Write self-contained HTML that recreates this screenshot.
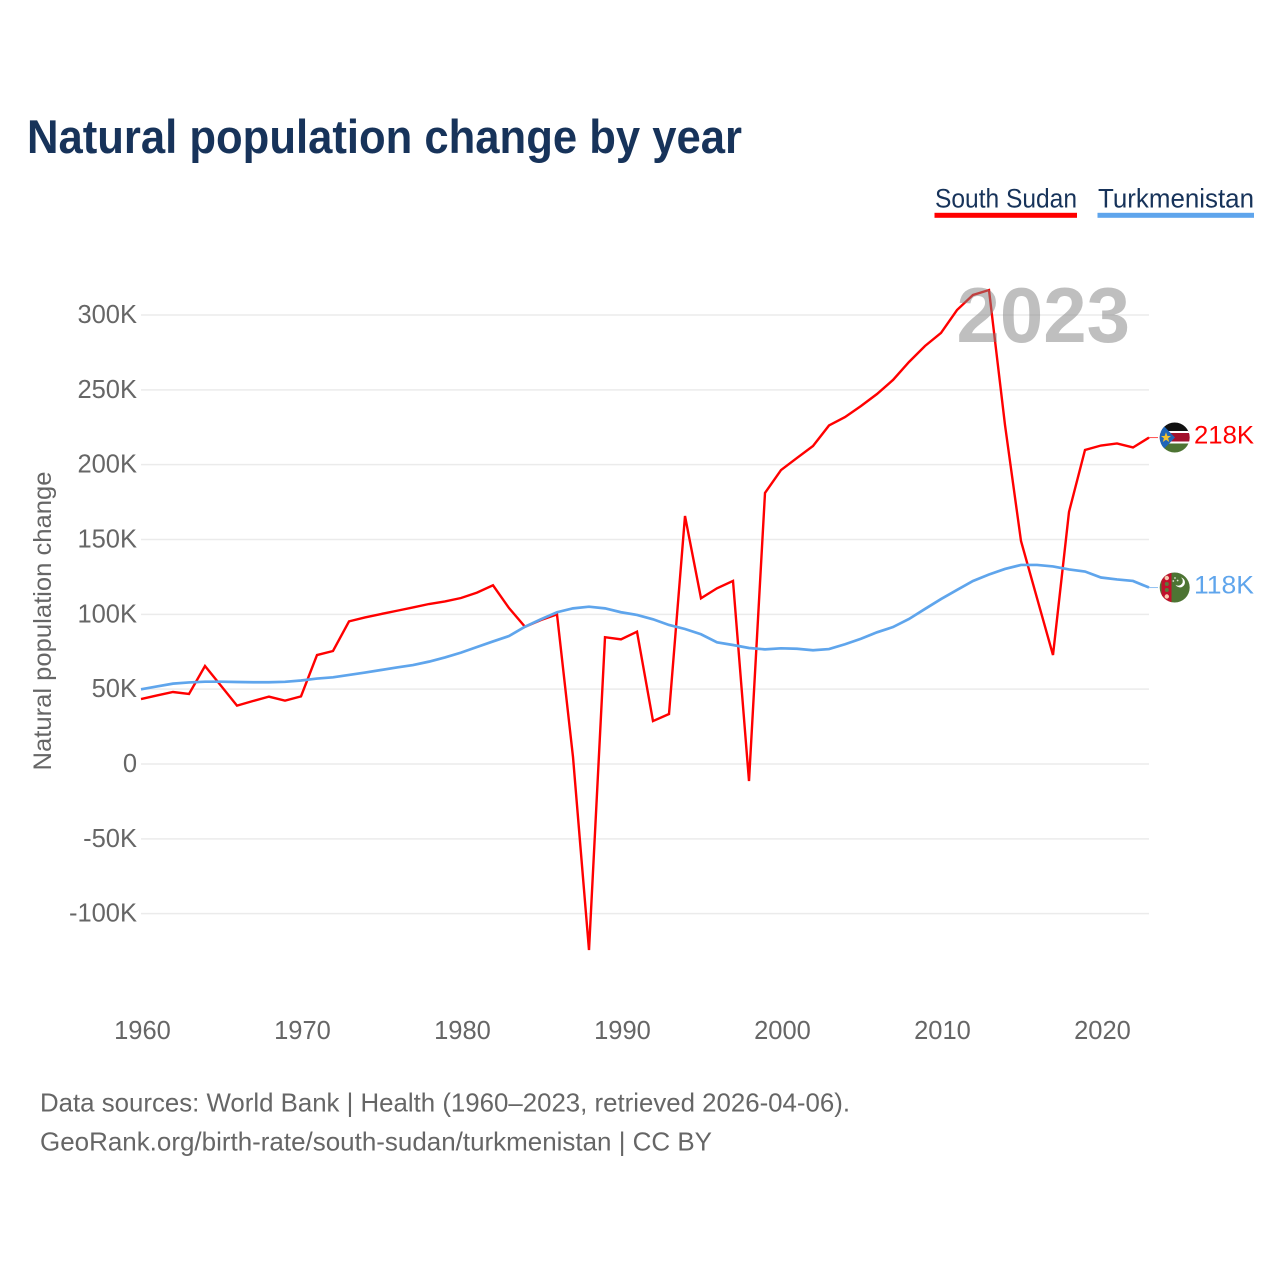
<!DOCTYPE html>
<html lang="en">
<head>
<meta charset="utf-8">
<title>Natural population change by year</title>
<style>
html,body{margin:0;padding:0;background:#fff;width:1280px;height:1280px;overflow:hidden}
svg{display:block}
text{font-family:"Liberation Sans",sans-serif}
</style>
</head>
<body>
<svg id="chart" xmlns="http://www.w3.org/2000/svg" width="1280" height="1280" viewBox="0 0 1280 1280">
  <defs>
    <clipPath id="flag-clip-ss"><circle cx="1174.7" cy="437.5" r="15"/></clipPath>
    <clipPath id="flag-clip-tm"><circle cx="1174.7" cy="587.5" r="15"/></clipPath>
  </defs>
  <rect width="1280" height="1280" fill="#fff"/>
  <text x="27" y="153" font-size="47" font-weight="700" fill="#17335a" textLength="715" lengthAdjust="spacingAndGlyphs">Natural population change by year</text>

  <g>
    <g>
      <text x="935" y="207.5" font-size="27" fill="#17335a" textLength="142" lengthAdjust="spacingAndGlyphs">South Sudan</text>
      <rect x="934.5" y="212.8" width="142.5" height="5" fill="#ff0000"/>
    </g>
    <g>
      <text x="1098" y="207.5" font-size="27" fill="#17335a" textLength="156" lengthAdjust="spacingAndGlyphs">Turkmenistan</text>
      <rect x="1097.5" y="212.8" width="156.5" height="5" fill="#5fa5ec"/>
    </g>
  </g>

  <g id="grid"></g>
  <g id="y-ticks"></g>
  <g id="x-ticks"></g>
  <text transform="translate(51 621) rotate(-90)" text-anchor="middle" font-size="25" fill="#666" textLength="299" lengthAdjust="spacingAndGlyphs">Natural population change</text>

  <g id="series"></g>

  <text x="956.5" y="342" font-size="78" font-weight="700" fill="#808080" fill-opacity="0.5">2023</text>

  <g>
    <g clip-path="url(#flag-clip-ss)">
      <rect x="1159" y="422" width="32" height="10" fill="#111"/>
      <rect x="1159" y="431" width="32" height="2" fill="#fff"/>
      <rect x="1159" y="433" width="32" height="8.5" fill="#a3112d"/>
      <rect x="1159" y="441.5" width="32" height="2" fill="#fff"/>
      <rect x="1159" y="443.5" width="32" height="10" fill="#4d7433"/>
      <polygon points="1159,421 1175,437.5 1159,454" fill="#1f65b8"/>
      <polygon points="1166,432.3 1167.4,436 1171,436 1168.1,438.3 1169.2,442 1166,439.8 1162.8,442 1163.9,438.3 1161,436 1164.6,436" fill="#f2c12e"/>
    </g>
    <text x="1194" y="443.5" font-size="25" fill="#ff0000" textLength="60" lengthAdjust="spacingAndGlyphs">218K</text>
  </g>
  <g>
    <g clip-path="url(#flag-clip-tm)">
      <rect x="1159" y="572" width="32" height="31" fill="#4d7433"/>
      <rect x="1161.5" y="572" width="10" height="31" fill="#c0102c"/>
      <circle cx="1166.8" cy="578" r="2.2" fill="#f7c9b0"/>
      <circle cx="1166.8" cy="584" r="2" fill="#5a7a3a"/>
      <circle cx="1166.8" cy="590" r="2" fill="#5a7a3a"/>
      <circle cx="1166.8" cy="596.5" r="2.2" fill="#f7c9b0"/>
      <path d="M1181 577.5 a5 5 0 1 1 -5.5 7.2 a4.4 4.4 0 0 0 5.5 -7.2z" fill="#fff"/>
      <circle cx="1175" cy="578" r="0.9" fill="#dfe6d5"/>
      <circle cx="1173.3" cy="581" r="0.9" fill="#dfe6d5"/>
      <circle cx="1177.6" cy="580.5" r="0.9" fill="#dfe6d5"/>
    </g>
    <text x="1194" y="593.5" font-size="25" fill="#5fa5ec" textLength="60" lengthAdjust="spacingAndGlyphs">118K</text>
  </g>

  <text x="40" y="1111.5" font-size="26" fill="#666" textLength="810" lengthAdjust="spacingAndGlyphs">Data sources: World Bank | Health (1960–2023, retrieved 2026-04-06).</text>
  <text x="40" y="1150.5" font-size="26" fill="#666" textLength="672" lengthAdjust="spacingAndGlyphs">GeoRank.org/birth-rate/south-sudan/turkmenistan | CC BY</text>
</svg>
<script>
const years = [1960,1961,1962,1963,1964,1965,1966,1967,1968,1969,1970,1971,1972,1973,1974,1975,1976,1977,1978,1979,1980,1981,1982,1983,1984,1985,1986,1987,1988,1989,1990,1991,1992,1993,1994,1995,1996,1997,1998,1999,2000,2001,2002,2003,2004,2005,2006,2007,2008,2009,2010,2011,2012,2013,2014,2015,2016,2017,2018,2019,2020,2021,2022,2023];
const southSudan = [43.4,45.8,48.1,46.8,65.5,52.3,39.0,42.1,45.0,42.3,45.2,72.8,75.5,95.3,97.9,100.2,102.4,104.6,106.9,108.6,110.9,114.5,119.4,104.2,91.7,96.2,100.0,4.7,-124.3,84.7,83.3,88.4,28.7,33.4,165.7,110.7,117.4,122.3,-11.4,181.1,196.4,204.5,212.5,226.2,231.8,239.2,247.2,256.6,268.6,279.3,288.0,303.3,313.4,316.7,226.5,149.0,110.9,72.8,168.4,209.8,212.8,214.2,211.5,218.1];
const turkmenistan = [49.9,51.8,53.7,54.5,55.0,55.0,54.8,54.6,54.6,54.9,55.8,57.1,57.9,59.5,61.1,62.8,64.5,66.1,68.4,71.2,74.4,78.2,81.9,85.5,91.7,96.7,101.4,104.0,105.1,104.0,101.4,99.6,96.7,92.9,90.2,86.7,81.3,79.5,77.5,76.6,77.3,77.0,76.0,76.8,80.0,83.7,88.0,91.5,96.9,103.6,110.2,116.3,122.3,126.6,130.3,133.0,133.0,132.0,130.0,128.6,124.6,123.3,122.3,117.9];
const yTicks = [300,250,200,150,100,50,0,-50,-100];
const yTickLabels = ["300K","250K","200K","150K","100K","50K","0","-50K","-100K"];
const xTicks = [1960,1970,1980,1990,2000,2010,2020];

const SVG_NS = "http://www.w3.org/2000/svg";
const xScale = function (year) { return 141 + (year - 1960) * 16; };
const yScale = function (value) { return 764 - value * (449 / 300); };

const gridGroup = document.getElementById("grid");
const yTickGroup = document.getElementById("y-ticks");
const xTickGroup = document.getElementById("x-ticks");
const seriesGroup = document.getElementById("series");

yTicks.forEach(function (tick, i) {
  const line = document.createElementNS(SVG_NS, "line");
  
  
  line.setAttribute("x1", xScale(1960));
  line.setAttribute("x2", xScale(2023));
  line.setAttribute("y1", yScale(tick));
  line.setAttribute("y2", yScale(tick));
  line.setAttribute("stroke", "#ebebeb");
  line.setAttribute("stroke-width", "1.5");
  gridGroup.appendChild(line);

  const label = document.createElementNS(SVG_NS, "text");
  
  
  label.setAttribute("x", 137);
  label.setAttribute("y", yScale(tick) + 8);
  label.setAttribute("text-anchor", "end");
  label.setAttribute("font-size", "25.5");
  label.setAttribute("fill", "#666");
  label.textContent = yTickLabels[i];
  yTickGroup.appendChild(label);
});

xTicks.forEach(function (tick) {
  const label = document.createElementNS(SVG_NS, "text");
  
  
  label.setAttribute("x", xScale(tick) + 1.5);
  label.setAttribute("y", 1039);
  label.setAttribute("text-anchor", "middle");
  label.setAttribute("font-size", "25.5");
  label.setAttribute("fill", "#666");
  label.textContent = String(tick);
  xTickGroup.appendChild(label);
});

function drawSeries(values, color, name, width) {
  const path = document.createElementNS(SVG_NS, "polyline");
  
  
  path.setAttribute("points", values.map(function (v, i) {
    return xScale(years[i]).toFixed(2) + "," + yScale(v).toFixed(2);
  }).join(" "));
  path.setAttribute("fill", "none");
  path.setAttribute("stroke", color);
  path.setAttribute("stroke-width", width);
  path.setAttribute("stroke-linejoin", "miter");
  seriesGroup.appendChild(path);

  const stub = document.createElementNS(SVG_NS, "line");
  
  
  const last = values.length - 1;
  stub.setAttribute("x1", xScale(years[last]));
  stub.setAttribute("x2", xScale(years[last]) + 9);
  stub.setAttribute("y1", yScale(values[last]));
  stub.setAttribute("y2", yScale(values[last]));
  stub.setAttribute("stroke", color);
  stub.setAttribute("stroke-width", "1");
  stub.setAttribute("stroke-opacity", "0.7");
  seriesGroup.appendChild(stub);
}

drawSeries(southSudan, "#ff0000", "line-south-sudan", "2.4");
drawSeries(turkmenistan, "#5fa5ec", "line-turkmenistan", "2.7");
</script>
</body>
</html>
